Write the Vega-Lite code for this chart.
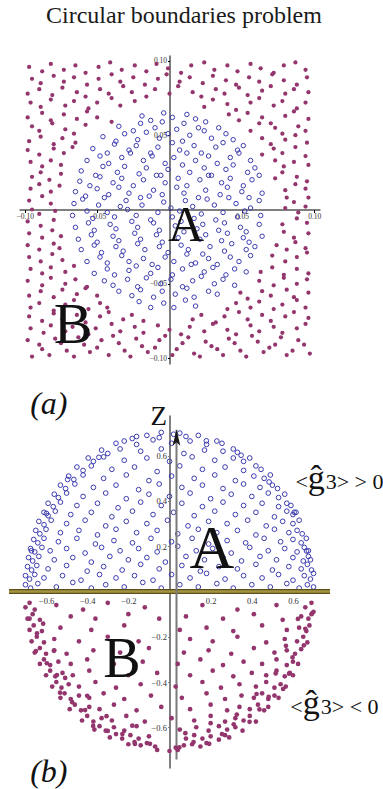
{
  "$schema": "https://vega.github.io/schema/vega-lite/v6.json",
  "padding": {"left": 6, "top": 4, "right": 0, "bottom": 0},
  "title": {"text": "Circular boundaries problem", "font": "Liberation Serif", "fontSize": 24, "fontWeight": "normal", "color": "#1a1a1a", "anchor": "start", "frame": "group", "dx": 37, "offset": 27},
  "config": {"view": {"stroke": null}},
  "datasets": {
    "one": [{}],
    "topB": [
      {"x":-0.095,"y":-0.099},{"x":-0.088,"y":-0.094},{"x":-0.083,"y":-0.098},{"x":-0.071,"y":-0.095},{"x":-0.066,"y":-0.099},{"x":-0.055,"y":-0.096},{"x":-0.05,"y":-0.093},{"x":-0.042,"y":-0.098},{"x":-0.031,"y":-0.095},{"x":-0.027,"y":-0.099},{"x":-0.015,"y":-0.096},{"x":-0.01,"y":-0.093},{"x":0.002,"y":-0.098},{"x":0.005,"y":-0.094},{"x":0.017,"y":-0.097},{"x":0.021,"y":-0.099},{"x":0.033,"y":-0.094},{"x":0.037,"y":-0.098},{"x":0.049,"y":-0.095},{"x":0.053,"y":-0.099},{"x":0.065,"y":-0.096},{"x":0.069,"y":-0.093},{"x":0.081,"y":-0.098},{"x":0.085,"y":-0.095},{"x":0.097,"y":-0.097},
      {"x":-0.098,"y":-0.088},{"x":-0.09,"y":-0.091},{"x":-0.079,"y":-0.087},{"x":-0.075,"y":-0.09},{"x":-0.063,"y":-0.086},{"x":-0.059,"y":-0.091},{"x":-0.047,"y":-0.088},{"x":-0.039,"y":-0.085},{"x":-0.035,"y":-0.09},{"x":-0.023,"y":-0.087},{"x":-0.019,"y":-0.092},{"x":-0.007,"y":-0.088},{"x":-0.003,"y":-0.085},{"x":0.009,"y":-0.09},{"x":0.013,"y":-0.086},{"x":0.025,"y":-0.089},{"x":0.029,"y":-0.092},{"x":0.041,"y":-0.087},{"x":0.045,"y":-0.09},{"x":0.057,"y":-0.085},{"x":0.061,"y":-0.089},{"x":0.073,"y":-0.091},{"x":0.077,"y":-0.086},{"x":0.089,"y":-0.088},{"x":0.093,"y":-0.091},
      {"x":-0.096,"y":-0.08},{"x":-0.087,"y":-0.083},{"x":-0.082,"y":-0.078},{"x":-0.072,"y":-0.082},{"x":-0.067,"y":-0.079},{"x":-0.056,"y":-0.084},{"x":-0.051,"y":-0.08},{"x":-0.04,"y":-0.077},{"x":-0.034,"y":-0.082},{"x":-0.024,"y":-0.079},{"x":-0.018,"y":-0.083},{"x":-0.008,"y":-0.078},{"x":0.0,"y":-0.081},{"x":0.008,"y":-0.084},{"x":0.014,"y":-0.079},{"x":0.024,"y":-0.082},{"x":0.03,"y":-0.077},{"x":0.04,"y":-0.081},{"x":0.046,"y":-0.084},{"x":0.056,"y":-0.078},{"x":0.062,"y":-0.082},{"x":0.072,"y":-0.079},{"x":0.078,"y":-0.083},{"x":0.088,"y":-0.08},{"x":0.094,"y":-0.077},
      {"x":-0.097,"y":-0.072},{"x":-0.088,"y":-0.075},{"x":-0.08,"y":-0.07},{"x":-0.074,"y":-0.074},{"x":-0.064,"y":-0.071},{"x":-0.058,"y":-0.076},{"x":-0.048,"y":-0.072},{"x":-0.042,"y":-0.069},{"x":-0.032,"y":-0.074},{"x":-0.026,"y":-0.071},{"x":-0.018,"y":-0.075},{"x":0.016,"y":-0.074},{"x":0.022,"y":-0.071},{"x":0.032,"y":-0.076},{"x":0.038,"y":-0.072},{"x":0.048,"y":-0.069},{"x":0.054,"y":-0.074},{"x":0.064,"y":-0.071},{"x":0.07,"y":-0.075},{"x":0.08,"y":-0.072},{"x":0.086,"y":-0.069},{"x":0.096,"y":-0.073},
      {"x":-0.096,"y":0.072},{"x":-0.089,"y":0.069},{"x":-0.082,"y":0.074},{"x":-0.072,"y":0.07},{"x":-0.066,"y":0.073},{"x":-0.056,"y":0.068},{"x":-0.05,"y":0.072},{"x":-0.04,"y":0.075},{"x":-0.034,"y":0.07},{"x":-0.024,"y":0.073},{"x":0.024,"y":0.069},{"x":0.03,"y":0.074},{"x":0.04,"y":0.071},{"x":0.046,"y":0.067},{"x":0.056,"y":0.072},{"x":0.062,"y":0.075},{"x":0.072,"y":0.07},{"x":0.078,"y":0.073},{"x":0.088,"y":0.068},{"x":0.094,"y":0.072},
      {"x":-0.098,"y":0.078},{"x":-0.09,"y":0.081},{"x":-0.081,"y":0.077},{"x":-0.074,"y":0.082},{"x":-0.064,"y":0.079},{"x":-0.058,"y":0.076},{"x":-0.048,"y":0.081},{"x":-0.042,"y":0.078},{"x":-0.032,"y":0.083},{"x":-0.026,"y":0.079},{"x":-0.016,"y":0.076},{"x":-0.01,"y":0.081},{"x":0.0,"y":0.078},{"x":0.006,"y":0.083},{"x":0.016,"y":0.079},{"x":0.022,"y":0.076},{"x":0.032,"y":0.081},{"x":0.038,"y":0.078},{"x":0.048,"y":0.082},{"x":0.054,"y":0.077},{"x":0.064,"y":0.08},{"x":0.07,"y":0.083},{"x":0.08,"y":0.078},{"x":0.086,"y":0.081},{"x":0.096,"y":0.079},
      {"x":-0.095,"y":0.088},{"x":-0.089,"y":0.085},{"x":-0.08,"y":0.09},{"x":-0.073,"y":0.086},{"x":-0.066,"y":0.089},{"x":-0.057,"y":0.084},{"x":-0.049,"y":0.088},{"x":-0.04,"y":0.091},{"x":-0.034,"y":0.086},{"x":-0.025,"y":0.089},{"x":-0.017,"y":0.084},{"x":-0.008,"y":0.088},{"x":-0.002,"y":0.091},{"x":0.007,"y":0.086},{"x":0.014,"y":0.089},{"x":0.023,"y":0.085},{"x":0.03,"y":0.09},{"x":0.039,"y":0.087},{"x":0.046,"y":0.084},{"x":0.055,"y":0.089},{"x":0.062,"y":0.086},{"x":0.071,"y":0.091},{"x":0.079,"y":0.087},{"x":0.088,"y":0.084},{"x":0.095,"y":0.089},
      {"x":-0.097,"y":0.096},{"x":-0.088,"y":0.093},{"x":-0.082,"y":0.098},{"x":-0.073,"y":0.094},{"x":-0.065,"y":0.097},{"x":-0.058,"y":0.092},{"x":-0.049,"y":0.096},{"x":-0.041,"y":0.099},{"x":-0.033,"y":0.094},{"x":-0.024,"y":0.097},{"x":-0.016,"y":0.093},{"x":-0.009,"y":0.098},{"x":-0.001,"y":0.095},{"x":0.008,"y":0.092},{"x":0.015,"y":0.097},{"x":0.024,"y":0.099},{"x":0.031,"y":0.094},{"x":0.04,"y":0.097},{"x":0.047,"y":0.093},{"x":0.056,"y":0.098},{"x":0.063,"y":0.095},{"x":0.072,"y":0.092},{"x":0.079,"y":0.097},{"x":0.087,"y":0.099},{"x":0.094,"y":0.094},
      {"x":-0.096,"y":-0.066},{"x":-0.09,"y":-0.063},{"x":-0.08,"y":-0.068},{"x":-0.072,"y":-0.064},{"x":-0.066,"y":-0.061},{"x":-0.056,"y":-0.067},{"x":-0.048,"y":-0.063},{"x":-0.043,"y":-0.066},{"x":0.04,"y":-0.067},{"x":0.046,"y":-0.063},{"x":0.056,"y":-0.066},{"x":0.062,"y":-0.062},{"x":0.072,"y":-0.067},{"x":0.078,"y":-0.064},{"x":0.088,"y":-0.061},{"x":0.094,"y":-0.066},
      {"x":-0.098,"y":0.062},{"x":-0.088,"y":0.065},{"x":-0.082,"y":0.06},{"x":-0.073,"y":0.064},{"x":-0.064,"y":0.061},{"x":-0.057,"y":0.066},{"x":-0.05,"y":0.062},{"x":-0.04,"y":0.059},{"x":0.041,"y":0.064},{"x":0.048,"y":0.06},{"x":0.054,"y":0.065},{"x":0.064,"y":0.062},{"x":0.07,"y":0.058},{"x":0.08,"y":0.063},{"x":0.086,"y":0.066},{"x":0.096,"y":0.061},
      {"x":-0.097,"y":-0.058},{"x":-0.089,"y":-0.055},{"x":-0.08,"y":-0.059},{"x":-0.074,"y":-0.054},{"x":-0.064,"y":-0.057},{"x":-0.058,"y":-0.053},{"x":-0.05,"y":-0.058},{"x":0.049,"y":-0.056},{"x":0.054,"y":-0.06},{"x":0.064,"y":-0.055},{"x":0.07,"y":-0.058},{"x":0.081,"y":-0.054},{"x":0.086,"y":-0.059},{"x":0.096,"y":-0.056},
      {"x":-0.095,"y":0.056},{"x":-0.09,"y":0.053},{"x":-0.081,"y":0.058},{"x":-0.072,"y":0.054},{"x":-0.066,"y":0.051},{"x":-0.058,"y":0.057},{"x":0.056,"y":0.053},{"x":0.062,"y":0.058},{"x":0.073,"y":0.055},{"x":0.078,"y":0.051},{"x":0.089,"y":0.056},{"x":0.094,"y":0.053},
      {"x":-0.098,"y":-0.048},{"x":-0.088,"y":-0.051},{"x":-0.082,"y":-0.046},{"x":-0.072,"y":-0.05},{"x":-0.065,"y":-0.047},{"x":-0.057,"y":-0.052},{"x":0.062,"y":-0.048},{"x":0.072,"y":-0.051},{"x":0.079,"y":-0.046},{"x":0.088,"y":-0.05},{"x":0.095,"y":-0.047},
      {"x":-0.097,"y":0.046},{"x":-0.089,"y":0.049},{"x":-0.08,"y":0.044},{"x":-0.074,"y":0.048},{"x":-0.065,"y":0.045},{"x":0.064,"y":0.048},{"x":0.07,"y":0.044},{"x":0.08,"y":0.047},{"x":0.087,"y":0.05},{"x":0.095,"y":0.045},
      {"x":-0.096,"y":-0.04},{"x":-0.088,"y":-0.043},{"x":-0.082,"y":-0.039},{"x":-0.072,"y":-0.042},{"x":-0.066,"y":-0.038},{"x":0.063,"y":-0.042},{"x":0.071,"y":-0.039},{"x":0.079,"y":-0.044},{"x":0.088,"y":-0.04},{"x":0.096,"y":-0.043},
      {"x":-0.098,"y":0.04},{"x":-0.09,"y":0.037},{"x":-0.08,"y":0.041},{"x":-0.073,"y":0.038},{"x":-0.067,"y":0.042},{"x":0.064,"y":0.037},{"x":0.072,"y":0.041},{"x":0.078,"y":0.038},{"x":0.087,"y":0.042},{"x":0.094,"y":0.036},
      {"x":-0.097,"y":-0.032},{"x":-0.089,"y":-0.035},{"x":-0.081,"y":-0.03},{"x":-0.074,"y":-0.034},{"x":0.071,"y":-0.031},{"x":0.08,"y":-0.035},{"x":0.088,"y":-0.032},{"x":0.095,"y":-0.029},
      {"x":-0.096,"y":0.032},{"x":-0.088,"y":0.029},{"x":-0.082,"y":0.033},{"x":-0.075,"y":0.03},{"x":0.073,"y":0.033},{"x":0.079,"y":0.029},{"x":0.086,"y":0.032},{"x":0.096,"y":0.03},
      {"x":-0.098,"y":-0.024},{"x":-0.09,"y":-0.027},{"x":-0.08,"y":-0.023},{"x":-0.076,"y":-0.026},{"x":0.074,"y":-0.024},{"x":0.081,"y":-0.027},{"x":0.087,"y":-0.022},{"x":0.094,"y":-0.026},
      {"x":-0.095,"y":0.022},{"x":-0.089,"y":0.025},{"x":-0.083,"y":0.02},{"x":-0.075,"y":0.024},{"x":0.073,"y":0.021},{"x":0.078,"y":0.025},{"x":0.088,"y":0.022},{"x":0.095,"y":0.019},
      {"x":-0.097,"y":-0.016},{"x":-0.088,"y":-0.019},{"x":-0.081,"y":-0.014},{"x":-0.075,"y":-0.018},{"x":0.079,"y":-0.015},{"x":0.086,"y":-0.019},{"x":0.096,"y":-0.016},
      {"x":-0.096,"y":0.014},{"x":-0.09,"y":0.017},{"x":-0.082,"y":0.012},{"x":-0.076,"y":0.016},{"x":0.08,"y":0.013},{"x":0.087,"y":0.017},{"x":0.094,"y":0.014},
      {"x":-0.098,"y":-0.008},{"x":-0.089,"y":-0.011},{"x":-0.08,"y":-0.007},{"x":0.078,"y":-0.01},{"x":0.088,"y":-0.006},{"x":0.095,"y":-0.009},
      {"x":-0.097,"y":0.006},{"x":-0.088,"y":0.009},{"x":-0.082,"y":0.004},{"x":0.081,"y":0.008},{"x":0.086,"y":0.005},{"x":0.096,"y":0.008},
      {"x":-0.095,"y":0.0},{"x":-0.09,"y":-0.003},{"x":-0.079,"y":-0.001},{"x":0.08,"y":0.001},{"x":0.089,"y":-0.002},{"x":0.094,"y":0.002}
    ],
    "topA": [
      {"x":-0.021,"y":-0.062},{"x":-0.013,"y":-0.066},{"x":-0.004,"y":-0.063},{"x":0.003,"y":-0.066},{"x":0.011,"y":-0.061},{"x":0.018,"y":-0.065},
      {"x":-0.035,"y":-0.055},{"x":-0.026,"y":-0.058},{"x":-0.02,"y":-0.054},{"x":-0.011,"y":-0.059},{"x":-0.005,"y":-0.055},{"x":0.004,"y":-0.057},{"x":0.012,"y":-0.053},{"x":0.017,"y":-0.059},{"x":0.027,"y":-0.055},{"x":0.033,"y":-0.057},
      {"x":-0.045,"y":-0.048},{"x":-0.039,"y":-0.051},{"x":-0.029,"y":-0.047},{"x":-0.022,"y":-0.052},{"x":-0.016,"y":-0.046},{"x":-0.006,"y":-0.05},{"x":0.001,"y":-0.047},{"x":0.009,"y":-0.052},{"x":0.016,"y":-0.048},{"x":0.022,"y":-0.045},{"x":0.031,"y":-0.05},{"x":0.037,"y":-0.047},{"x":0.045,"y":-0.051},
      {"x":-0.052,"y":-0.043},{"x":-0.043,"y":-0.04},{"x":-0.038,"y":-0.044},{"x":-0.028,"y":-0.041},{"x":-0.023,"y":-0.038},{"x":-0.013,"y":-0.043},{"x":-0.008,"y":-0.039},{"x":0.002,"y":-0.044},{"x":0.009,"y":-0.04},{"x":0.015,"y":-0.037},{"x":0.024,"y":-0.042},{"x":0.03,"y":-0.039},{"x":0.039,"y":-0.044},{"x":0.045,"y":-0.04},{"x":0.053,"y":-0.042},
      {"x":-0.057,"y":-0.035},{"x":-0.048,"y":-0.032},{"x":-0.043,"y":-0.036},{"x":-0.033,"y":-0.031},{"x":-0.028,"y":-0.035},{"x":-0.018,"y":-0.033},{"x":-0.012,"y":-0.037},{"x":-0.003,"y":-0.032},{"x":0.003,"y":-0.035},{"x":0.012,"y":-0.03},{"x":0.018,"y":-0.036},{"x":0.027,"y":-0.033},{"x":0.033,"y":-0.037},{"x":0.042,"y":-0.032},{"x":0.048,"y":-0.035},{"x":0.056,"y":-0.031},
      {"x":-0.061,"y":-0.027},{"x":-0.052,"y":-0.024},{"x":-0.047,"y":-0.029},{"x":-0.037,"y":-0.025},{"x":-0.032,"y":-0.028},{"x":-0.022,"y":-0.023},{"x":-0.017,"y":-0.027},{"x":-0.007,"y":-0.025},{"x":-0.001,"y":-0.029},{"x":0.008,"y":-0.024},{"x":0.013,"y":-0.027},{"x":0.023,"y":-0.03},{"x":0.028,"y":-0.025},{"x":0.038,"y":-0.028},{"x":0.043,"y":-0.023},{"x":0.053,"y":-0.027},{"x":0.059,"y":-0.025},
      {"x":-0.063,"y":-0.02},{"x":-0.054,"y":-0.017},{"x":-0.05,"y":-0.022},{"x":-0.039,"y":-0.018},{"x":-0.035,"y":-0.021},{"x":-0.024,"y":-0.016},{"x":-0.02,"y":-0.02},{"x":-0.009,"y":-0.017},{"x":-0.005,"y":-0.022},{"x":0.006,"y":-0.019},{"x":0.01,"y":-0.015},{"x":0.021,"y":-0.02},{"x":0.025,"y":-0.017},{"x":0.036,"y":-0.021},{"x":0.04,"y":-0.016},{"x":0.051,"y":-0.019},{"x":0.055,"y":-0.022},{"x":0.064,"y":-0.018},
      {"x":-0.065,"y":-0.012},{"x":-0.056,"y":-0.009},{"x":-0.052,"y":-0.014},{"x":-0.041,"y":-0.01},{"x":-0.037,"y":-0.013},{"x":-0.026,"y":-0.008},{"x":-0.022,"y":-0.012},{"x":-0.011,"y":-0.009},{"x":-0.007,"y":-0.014},{"x":0.004,"y":-0.011},{"x":0.008,"y":-0.008},{"x":0.019,"y":-0.013},{"x":0.023,"y":-0.01},{"x":0.034,"y":-0.014},{"x":0.038,"y":-0.009},{"x":0.049,"y":-0.012},{"x":0.053,"y":-0.015},{"x":0.062,"y":-0.01},
      {"x":-0.067,"y":-0.004},{"x":-0.057,"y":-0.001},{"x":-0.053,"y":-0.006},{"x":-0.043,"y":-0.002},{"x":-0.038,"y":-0.005},{"x":-0.029,"y":0.0},{"x":-0.023,"y":-0.004},{"x":-0.013,"y":-0.007},{"x":-0.008,"y":-0.002},{"x":0.002,"y":-0.005},{"x":0.007,"y":-0.001},{"x":0.017,"y":-0.006},{"x":0.022,"y":-0.003},{"x":0.032,"y":-0.007},{"x":0.037,"y":-0.002},{"x":0.047,"y":-0.005},{"x":0.052,"y":-0.001},{"x":0.063,"y":-0.004},
      {"x":-0.066,"y":0.004},{"x":-0.06,"y":0.007},{"x":-0.049,"y":0.003},{"x":-0.045,"y":0.008},{"x":-0.034,"y":0.002},{"x":-0.03,"y":0.006},{"x":-0.019,"y":0.003},{"x":-0.014,"y":0.009},{"x":-0.004,"y":0.005},{"x":0.001,"y":0.001},{"x":0.011,"y":0.006},{"x":0.016,"y":0.002},{"x":0.026,"y":0.007},{"x":0.031,"y":0.003},{"x":0.041,"y":0.008},{"x":0.046,"y":0.004},{"x":0.056,"y":0.001},{"x":0.062,"y":0.006},
      {"x":-0.065,"y":0.012},{"x":-0.058,"y":0.009},{"x":-0.05,"y":0.014},{"x":-0.042,"y":0.01},{"x":-0.035,"y":0.015},{"x":-0.028,"y":0.011},{"x":-0.02,"y":0.008},{"x":-0.011,"y":0.013},{"x":-0.005,"y":0.01},{"x":0.005,"y":0.015},{"x":0.01,"y":0.011},{"x":0.02,"y":0.008},{"x":0.025,"y":0.013},{"x":0.035,"y":0.01},{"x":0.04,"y":0.015},{"x":0.05,"y":0.012},{"x":0.055,"y":0.008},{"x":0.064,"y":0.011},
      {"x":-0.062,"y":0.019},{"x":-0.055,"y":0.016},{"x":-0.048,"y":0.022},{"x":-0.039,"y":0.018},{"x":-0.033,"y":0.021},{"x":-0.025,"y":0.016},{"x":-0.018,"y":0.02},{"x":-0.009,"y":0.023},{"x":-0.003,"y":0.018},{"x":0.006,"y":0.021},{"x":0.012,"y":0.016},{"x":0.021,"y":0.02},{"x":0.027,"y":0.023},{"x":0.036,"y":0.018},{"x":0.042,"y":0.021},{"x":0.051,"y":0.016},{"x":0.057,"y":0.02},{"x":0.062,"y":0.023},
      {"x":-0.061,"y":0.026},{"x":-0.051,"y":0.023},{"x":-0.046,"y":0.029},{"x":-0.036,"y":0.025},{"x":-0.031,"y":0.029},{"x":-0.021,"y":0.024},{"x":-0.016,"y":0.028},{"x":-0.006,"y":0.023},{"x":-0.001,"y":0.027},{"x":0.009,"y":0.03},{"x":0.014,"y":0.025},{"x":0.024,"y":0.028},{"x":0.029,"y":0.023},{"x":0.039,"y":0.027},{"x":0.044,"y":0.03},{"x":0.054,"y":0.025},{"x":0.059,"y":0.028},
      {"x":-0.057,"y":0.033},{"x":-0.048,"y":0.036},{"x":-0.042,"y":0.031},{"x":-0.033,"y":0.035},{"x":-0.027,"y":0.038},{"x":-0.018,"y":0.033},{"x":-0.012,"y":0.036},{"x":-0.003,"y":0.031},{"x":0.003,"y":0.035},{"x":0.012,"y":0.038},{"x":0.018,"y":0.033},{"x":0.027,"y":0.036},{"x":0.033,"y":0.031},{"x":0.042,"y":0.035},{"x":0.048,"y":0.038},{"x":0.056,"y":0.033},
      {"x":-0.053,"y":0.041},{"x":-0.043,"y":0.038},{"x":-0.038,"y":0.044},{"x":-0.028,"y":0.04},{"x":-0.023,"y":0.043},{"x":-0.013,"y":0.038},{"x":-0.008,"y":0.042},{"x":0.002,"y":0.045},{"x":0.007,"y":0.04},{"x":0.017,"y":0.043},{"x":0.022,"y":0.038},{"x":0.032,"y":0.042},{"x":0.037,"y":0.045},{"x":0.047,"y":0.04},{"x":0.051,"y":0.043},
      {"x":-0.046,"y":0.049},{"x":-0.037,"y":0.046},{"x":-0.031,"y":0.051},{"x":-0.022,"y":0.047},{"x":-0.016,"y":0.052},{"x":-0.007,"y":0.048},{"x":-0.001,"y":0.051},{"x":0.009,"y":0.046},{"x":0.014,"y":0.05},{"x":0.024,"y":0.053},{"x":0.029,"y":0.048},{"x":0.039,"y":0.051},{"x":0.044,"y":0.047},
      {"x":-0.035,"y":0.056},{"x":-0.025,"y":0.053},{"x":-0.02,"y":0.058},{"x":-0.01,"y":0.055},{"x":-0.005,"y":0.059},{"x":0.005,"y":0.054},{"x":0.01,"y":0.058},{"x":0.02,"y":0.055},{"x":0.025,"y":0.059},{"x":0.034,"y":0.055},
      {"x":-0.019,"y":0.063},{"x":-0.013,"y":0.06},{"x":-0.004,"y":0.065},{"x":0.002,"y":0.062},{"x":0.012,"y":0.064},{"x":0.018,"y":0.061}
    ],
    "botA": [
      {"x":-0.70,"y":0.03},{"x":-0.675,"y":0.015},{"x":-0.64,"y":0.035},{"x":-0.55,"y":0.02},{"x":-0.47,"y":0.04},{"x":-0.38,"y":0.015},{"x":-0.31,"y":0.03},{"x":-0.22,"y":0.02},{"x":-0.13,"y":0.04},{"x":-0.04,"y":0.015},{"x":0.05,"y":0.03},{"x":0.14,"y":0.02},{"x":0.23,"y":0.035},{"x":0.31,"y":0.015},{"x":0.40,"y":0.03},{"x":0.49,"y":0.02},{"x":0.57,"y":0.035},{"x":0.63,"y":0.015},{"x":0.67,"y":0.03},{"x":0.70,"y":0.02},
      {"x":-0.70,"y":0.07},{"x":-0.68,"y":0.055},{"x":-0.655,"y":0.075},{"x":-0.61,"y":0.06},{"x":-0.52,"y":0.07},{"x":-0.43,"y":0.05},{"x":-0.34,"y":0.075},{"x":-0.26,"y":0.06},{"x":-0.17,"y":0.07},{"x":-0.08,"y":0.05},{"x":0.01,"y":0.075},{"x":0.10,"y":0.06},{"x":0.18,"y":0.08},{"x":0.27,"y":0.055},{"x":0.36,"y":0.07},{"x":0.45,"y":0.06},{"x":0.53,"y":0.075},{"x":0.60,"y":0.05},{"x":0.655,"y":0.07},{"x":0.685,"y":0.055},{"x":0.70,"y":0.08},
      {"x":-0.69,"y":0.11},{"x":-0.67,"y":0.095},{"x":-0.645,"y":0.115},{"x":-0.59,"y":0.10},{"x":-0.50,"y":0.115},{"x":-0.40,"y":0.09},{"x":-0.32,"y":0.11},{"x":-0.23,"y":0.095},{"x":-0.14,"y":0.12},{"x":-0.05,"y":0.10},{"x":0.06,"y":0.115},{"x":0.15,"y":0.09},{"x":0.24,"y":0.11},{"x":0.33,"y":0.10},{"x":0.42,"y":0.12},{"x":0.50,"y":0.095},{"x":0.58,"y":0.11},{"x":0.64,"y":0.10},{"x":0.67,"y":0.12},{"x":0.69,"y":0.095},
      {"x":-0.685,"y":0.15},{"x":-0.665,"y":0.135},{"x":-0.635,"y":0.155},{"x":-0.56,"y":0.14},{"x":-0.47,"y":0.15},{"x":-0.38,"y":0.13},{"x":-0.29,"y":0.155},{"x":-0.20,"y":0.14},{"x":-0.11,"y":0.15},{"x":-0.02,"y":0.13},{"x":0.08,"y":0.155},{"x":0.17,"y":0.14},{"x":0.26,"y":0.15},{"x":0.35,"y":0.135},{"x":0.44,"y":0.155},{"x":0.52,"y":0.14},{"x":0.60,"y":0.15},{"x":0.65,"y":0.135},{"x":0.675,"y":0.155},{"x":0.685,"y":0.14},
      {"x":-0.675,"y":0.19},{"x":-0.655,"y":0.175},{"x":-0.62,"y":0.195},{"x":-0.58,"y":0.18},{"x":-0.50,"y":0.19},{"x":-0.41,"y":0.17},{"x":-0.33,"y":0.195},{"x":-0.24,"y":0.18},{"x":-0.15,"y":0.19},{"x":-0.06,"y":0.175},{"x":0.04,"y":0.20},{"x":0.13,"y":0.18},{"x":0.21,"y":0.19},{"x":0.30,"y":0.17},{"x":0.39,"y":0.195},{"x":0.48,"y":0.18},{"x":0.56,"y":0.19},{"x":0.62,"y":0.175},{"x":0.655,"y":0.195},{"x":0.675,"y":0.18},
      {"x":-0.66,"y":0.23},{"x":-0.64,"y":0.215},{"x":-0.61,"y":0.235},{"x":-0.54,"y":0.22},{"x":-0.45,"y":0.235},{"x":-0.36,"y":0.21},{"x":-0.27,"y":0.225},{"x":-0.18,"y":0.215},{"x":-0.09,"y":0.235},{"x":0.01,"y":0.22},{"x":0.11,"y":0.235},{"x":0.19,"y":0.21},{"x":0.28,"y":0.225},{"x":0.37,"y":0.215},{"x":0.46,"y":0.235},{"x":0.54,"y":0.22},{"x":0.60,"y":0.23},{"x":0.64,"y":0.215},{"x":0.665,"y":0.235},
      {"x":-0.65,"y":0.27},{"x":-0.63,"y":0.255},{"x":-0.60,"y":0.275},{"x":-0.53,"y":0.26},{"x":-0.44,"y":0.27},{"x":-0.35,"y":0.25},{"x":-0.26,"y":0.275},{"x":-0.16,"y":0.26},{"x":-0.06,"y":0.27},{"x":0.04,"y":0.255},{"x":0.14,"y":0.275},{"x":0.23,"y":0.26},{"x":0.33,"y":0.27},{"x":0.42,"y":0.25},{"x":0.51,"y":0.275},{"x":0.58,"y":0.26},{"x":0.62,"y":0.27},{"x":0.645,"y":0.255},
      {"x":-0.635,"y":0.31},{"x":-0.61,"y":0.295},{"x":-0.575,"y":0.315},{"x":-0.50,"y":0.30},{"x":-0.41,"y":0.315},{"x":-0.31,"y":0.29},{"x":-0.21,"y":0.31},{"x":-0.11,"y":0.30},{"x":-0.01,"y":0.315},{"x":0.09,"y":0.29},{"x":0.19,"y":0.31},{"x":0.28,"y":0.30},{"x":0.38,"y":0.315},{"x":0.47,"y":0.29},{"x":0.55,"y":0.31},{"x":0.60,"y":0.30},{"x":0.63,"y":0.315},
      {"x":-0.61,"y":0.35},{"x":-0.59,"y":0.335},{"x":-0.555,"y":0.355},{"x":-0.48,"y":0.34},{"x":-0.38,"y":0.35},{"x":-0.28,"y":0.33},{"x":-0.18,"y":0.355},{"x":-0.08,"y":0.34},{"x":0.02,"y":0.35},{"x":0.12,"y":0.335},{"x":0.22,"y":0.355},{"x":0.32,"y":0.34},{"x":0.42,"y":0.35},{"x":0.51,"y":0.33},{"x":0.57,"y":0.355},{"x":0.60,"y":0.34},{"x":0.615,"y":0.35},
      {"x":-0.59,"y":0.39},{"x":-0.565,"y":0.375},{"x":-0.53,"y":0.395},{"x":-0.45,"y":0.38},{"x":-0.35,"y":0.39},{"x":-0.25,"y":0.37},{"x":-0.14,"y":0.395},{"x":-0.04,"y":0.38},{"x":0.06,"y":0.39},{"x":0.16,"y":0.375},{"x":0.26,"y":0.395},{"x":0.36,"y":0.38},{"x":0.45,"y":0.39},{"x":0.53,"y":0.375},{"x":0.57,"y":0.39},{"x":0.59,"y":0.38},
      {"x":-0.56,"y":0.43},{"x":-0.54,"y":0.415},{"x":-0.50,"y":0.435},{"x":-0.42,"y":0.42},{"x":-0.31,"y":0.435},{"x":-0.21,"y":0.41},{"x":-0.10,"y":0.43},{"x":0.0,"y":0.42},{"x":0.10,"y":0.435},{"x":0.20,"y":0.41},{"x":0.30,"y":0.43},{"x":0.40,"y":0.42},{"x":0.48,"y":0.435},{"x":0.53,"y":0.415},{"x":0.56,"y":0.43},
      {"x":-0.53,"y":0.47},{"x":-0.505,"y":0.455},{"x":-0.46,"y":0.475},{"x":-0.37,"y":0.46},{"x":-0.26,"y":0.47},{"x":-0.15,"y":0.45},{"x":-0.05,"y":0.475},{"x":0.06,"y":0.46},{"x":0.16,"y":0.47},{"x":0.26,"y":0.455},{"x":0.36,"y":0.475},{"x":0.44,"y":0.46},{"x":0.50,"y":0.47},{"x":0.525,"y":0.455},
      {"x":-0.49,"y":0.51},{"x":-0.465,"y":0.495},{"x":-0.42,"y":0.515},{"x":-0.32,"y":0.50},{"x":-0.21,"y":0.515},{"x":-0.10,"y":0.49},{"x":0.01,"y":0.51},{"x":0.12,"y":0.50},{"x":0.22,"y":0.515},{"x":0.32,"y":0.49},{"x":0.41,"y":0.51},{"x":0.46,"y":0.50},{"x":0.49,"y":0.515},
      {"x":-0.45,"y":0.55},{"x":-0.42,"y":0.535},{"x":-0.38,"y":0.555},{"x":-0.28,"y":0.54},{"x":-0.17,"y":0.55},{"x":-0.06,"y":0.53},{"x":0.05,"y":0.555},{"x":0.16,"y":0.54},{"x":0.27,"y":0.55},{"x":0.36,"y":0.535},{"x":0.42,"y":0.555},{"x":0.445,"y":0.54},
      {"x":-0.395,"y":0.59},{"x":-0.37,"y":0.575},{"x":-0.32,"y":0.595},{"x":-0.22,"y":0.58},{"x":-0.11,"y":0.59},{"x":0.0,"y":0.575},{"x":0.11,"y":0.595},{"x":0.22,"y":0.58},{"x":0.31,"y":0.59},{"x":0.36,"y":0.575},{"x":0.39,"y":0.59},
      {"x":-0.33,"y":0.625},{"x":-0.30,"y":0.61},{"x":-0.24,"y":0.63},{"x":-0.14,"y":0.62},{"x":-0.04,"y":0.63},{"x":0.07,"y":0.61},{"x":0.17,"y":0.625},{"x":0.26,"y":0.62},{"x":0.31,"y":0.63},{"x":0.33,"y":0.615},
      {"x":-0.26,"y":0.655},{"x":-0.22,"y":0.665},{"x":-0.16,"y":0.65},{"x":-0.08,"y":0.67},{"x":0.01,"y":0.655},{"x":0.10,"y":0.665},{"x":0.18,"y":0.65},{"x":0.23,"y":0.665},{"x":0.255,"y":0.655},
      {"x":-0.16,"y":0.685},{"x":-0.11,"y":0.69},{"x":-0.05,"y":0.68},{"x":0.02,"y":0.695},{"x":0.08,"y":0.685},{"x":0.14,"y":0.69},
      {"x":-0.04,"y":0.703},{"x":0.05,"y":0.70},
      {"x":-0.671,"y":0.18},{"x":-0.598,"y":0.345},{"x":-0.495,"y":0.495},{"x":-0.343,"y":0.593},{"x":-0.181,"y":0.676},{"x":0.179,"y":0.666},{"x":0.348,"y":0.602},{"x":0.484,"y":0.484},{"x":0.606,"y":0.35},{"x":0.666,"y":0.179}
    ],
    "botB": [
      {"x":-0.70,"y":-0.07},{"x":-0.68,"y":-0.05},{"x":-0.655,"y":-0.08},{"x":-0.55,"y":-0.06},{"x":-0.42,"y":-0.08},{"x":-0.30,"y":-0.05},{"x":-0.12,"y":-0.07},{"x":0.16,"y":-0.06},{"x":0.33,"y":-0.08},{"x":0.52,"y":-0.06},{"x":0.66,"y":-0.07},{"x":0.69,"y":-0.05},{"x":0.70,"y":-0.09},
      {"x":-0.69,"y":-0.12},{"x":-0.665,"y":-0.10},{"x":-0.63,"y":-0.125},{"x":-0.48,"y":-0.11},{"x":-0.36,"y":-0.12},{"x":-0.20,"y":-0.10},{"x":-0.05,"y":-0.12},{"x":0.08,"y":-0.11},{"x":0.26,"y":-0.12},{"x":0.41,"y":-0.10},{"x":0.55,"y":-0.125},{"x":0.64,"y":-0.11},{"x":0.675,"y":-0.12},{"x":0.69,"y":-0.10},
      {"x":-0.68,"y":-0.17},{"x":-0.66,"y":-0.15},{"x":-0.62,"y":-0.175},{"x":-0.53,"y":-0.16},{"x":-0.38,"y":-0.17},{"x":-0.22,"y":-0.15},{"x":0.05,"y":-0.17},{"x":0.18,"y":-0.16},{"x":0.31,"y":-0.175},{"x":0.45,"y":-0.15},{"x":0.57,"y":-0.17},{"x":0.63,"y":-0.16},{"x":0.665,"y":-0.175},{"x":0.68,"y":-0.15},
      {"x":-0.67,"y":-0.22},{"x":-0.645,"y":-0.20},{"x":-0.61,"y":-0.225},{"x":-0.56,"y":-0.21},{"x":-0.44,"y":-0.22},{"x":-0.30,"y":-0.20},{"x":-0.15,"y":-0.22},{"x":0.10,"y":-0.21},{"x":0.21,"y":-0.22},{"x":0.33,"y":-0.20},{"x":0.47,"y":-0.225},{"x":0.56,"y":-0.21},{"x":0.62,"y":-0.22},{"x":0.65,"y":-0.20},{"x":0.67,"y":-0.225},
      {"x":-0.655,"y":-0.27},{"x":-0.63,"y":-0.25},{"x":-0.60,"y":-0.275},{"x":-0.56,"y":-0.26},{"x":-0.50,"y":-0.275},{"x":-0.37,"y":-0.26},{"x":-0.24,"y":-0.27},{"x":-0.10,"y":-0.25},{"x":0.07,"y":-0.27},{"x":0.19,"y":-0.26},{"x":0.30,"y":-0.275},{"x":0.41,"y":-0.25},{"x":0.51,"y":-0.27},{"x":0.57,"y":-0.26},{"x":0.61,"y":-0.275},{"x":0.64,"y":-0.255},
      {"x":-0.63,"y":-0.32},{"x":-0.61,"y":-0.30},{"x":-0.58,"y":-0.325},{"x":-0.54,"y":-0.31},{"x":-0.48,"y":-0.32},{"x":-0.40,"y":-0.30},{"x":-0.27,"y":-0.32},{"x":-0.13,"y":-0.31},{"x":0.04,"y":-0.32},{"x":0.15,"y":-0.30},{"x":0.26,"y":-0.325},{"x":0.36,"y":-0.31},{"x":0.45,"y":-0.32},{"x":0.52,"y":-0.30},{"x":0.57,"y":-0.325},{"x":0.60,"y":-0.31},{"x":0.625,"y":-0.32},
      {"x":-0.60,"y":-0.37},{"x":-0.58,"y":-0.35},{"x":-0.555,"y":-0.375},{"x":-0.52,"y":-0.36},{"x":-0.47,"y":-0.37},{"x":-0.39,"y":-0.35},{"x":-0.20,"y":-0.37},{"x":-0.06,"y":-0.36},{"x":0.10,"y":-0.37},{"x":0.21,"y":-0.35},{"x":0.31,"y":-0.375},{"x":0.40,"y":-0.36},{"x":0.47,"y":-0.37},{"x":0.52,"y":-0.35},{"x":0.56,"y":-0.375},{"x":0.585,"y":-0.36},{"x":0.60,"y":-0.37},
      {"x":-0.57,"y":-0.42},{"x":-0.55,"y":-0.40},{"x":-0.525,"y":-0.425},{"x":-0.49,"y":-0.41},{"x":-0.44,"y":-0.42},{"x":-0.36,"y":-0.40},{"x":-0.26,"y":-0.425},{"x":-0.14,"y":-0.41},{"x":0.03,"y":-0.42},{"x":0.16,"y":-0.40},{"x":0.25,"y":-0.425},{"x":0.34,"y":-0.41},{"x":0.42,"y":-0.42},{"x":0.47,"y":-0.40},{"x":0.51,"y":-0.425},{"x":0.54,"y":-0.41},{"x":0.565,"y":-0.42},
      {"x":-0.53,"y":-0.47},{"x":-0.51,"y":-0.45},{"x":-0.48,"y":-0.475},{"x":-0.44,"y":-0.46},{"x":-0.39,"y":-0.47},{"x":-0.32,"y":-0.45},{"x":-0.22,"y":-0.475},{"x":-0.09,"y":-0.46},{"x":0.06,"y":-0.47},{"x":0.18,"y":-0.45},{"x":0.27,"y":-0.475},{"x":0.35,"y":-0.46},{"x":0.41,"y":-0.47},{"x":0.45,"y":-0.45},{"x":0.48,"y":-0.475},{"x":0.51,"y":-0.46},{"x":0.53,"y":-0.47},
      {"x":-0.485,"y":-0.52},{"x":-0.46,"y":-0.50},{"x":-0.43,"y":-0.525},{"x":-0.39,"y":-0.51},{"x":-0.34,"y":-0.52},{"x":-0.27,"y":-0.50},{"x":-0.16,"y":-0.525},{"x":-0.04,"y":-0.51},{"x":0.10,"y":-0.52},{"x":0.20,"y":-0.50},{"x":0.28,"y":-0.525},{"x":0.34,"y":-0.51},{"x":0.39,"y":-0.52},{"x":0.43,"y":-0.50},{"x":0.46,"y":-0.525},{"x":0.48,"y":-0.51},
      {"x":-0.425,"y":-0.57},{"x":-0.40,"y":-0.55},{"x":-0.37,"y":-0.575},{"x":-0.33,"y":-0.56},{"x":-0.28,"y":-0.57},{"x":-0.21,"y":-0.55},{"x":-0.12,"y":-0.575},{"x":0.01,"y":-0.56},{"x":0.12,"y":-0.57},{"x":0.20,"y":-0.55},{"x":0.27,"y":-0.575},{"x":0.32,"y":-0.56},{"x":0.36,"y":-0.57},{"x":0.39,"y":-0.55},{"x":0.42,"y":-0.575},
      {"x":-0.365,"y":-0.61},{"x":-0.34,"y":-0.595},{"x":-0.31,"y":-0.615},{"x":-0.27,"y":-0.60},{"x":-0.22,"y":-0.615},{"x":-0.16,"y":-0.595},{"x":0.05,"y":-0.61},{"x":0.13,"y":-0.60},{"x":0.19,"y":-0.615},{"x":0.24,"y":-0.595},{"x":0.28,"y":-0.61},{"x":0.32,"y":-0.60},{"x":0.355,"y":-0.615},
      {"x":-0.29,"y":-0.645},{"x":-0.26,"y":-0.63},{"x":-0.23,"y":-0.65},{"x":-0.19,"y":-0.635},{"x":-0.15,"y":-0.65},{"x":-0.10,"y":-0.64},{"x":0.08,"y":-0.65},{"x":0.12,"y":-0.635},{"x":0.16,"y":-0.65},{"x":0.20,"y":-0.64},{"x":0.24,"y":-0.655},{"x":0.27,"y":-0.635},{"x":0.29,"y":-0.645},
      {"x":-0.20,"y":-0.675},{"x":-0.17,"y":-0.665},{"x":-0.14,"y":-0.68},{"x":-0.11,"y":-0.67},{"x":-0.07,"y":-0.685},{"x":0.03,"y":-0.69},{"x":0.07,"y":-0.68},{"x":0.11,"y":-0.675},{"x":0.15,"y":-0.685},{"x":0.18,"y":-0.67},
      {"x":-0.06,"y":-0.70},{"x":0.0,"y":-0.705},{"x":0.04,"y":-0.70},
      {"x":-0.68,"y":-0.12},{"x":-0.644,"y":-0.185},{"x":-0.649,"y":-0.263},{"x":-0.596,"y":-0.317},{"x":-0.547,"y":-0.369},{"x":-0.532,"y":-0.447},{"x":-0.473,"y":-0.489},{"x":-0.41,"y":-0.524},{"x":-0.371,"y":-0.594},{"x":-0.30,"y":-0.616},{"x":-0.229,"y":-0.63},{"x":-0.168,"y":-0.674},{"x":-0.095,"y":-0.673},{"x":0.048,"y":-0.689},{"x":0.117,"y":-0.665},{"x":0.193,"y":-0.673},{"x":0.255,"y":-0.63},{"x":0.312,"y":-0.587},{"x":0.389,"y":-0.576},{"x":0.437,"y":-0.521},{"x":0.482,"y":-0.466},{"x":0.552,"y":-0.431},{"x":0.581,"y":-0.363},{"x":0.598,"y":-0.291},{"x":0.653,"y":-0.238},{"x":0.66,"y":-0.165},{"x":0.693,"y":-0.097},
      {"x":-0.614,"y":-0.142},{"x":-0.562,"y":-0.262},{"x":-0.507,"y":-0.382},{"x":-0.40,"y":-0.461},{"x":-0.306,"y":-0.551},{"x":-0.181,"y":-0.593},{"x":0.077,"y":-0.626},{"x":0.20,"y":-0.582},{"x":0.327,"y":-0.544},{"x":0.423,"y":-0.453},{"x":0.516,"y":-0.362},{"x":0.566,"y":-0.24},{"x":0.624,"y":-0.121}
    ]
  },
  "vconcat": [
    {
      "width": 301,
      "height": 309,
      "layer": [
        {
          "data": {"name": "topB"},
          "mark": {"type": "circle", "size": 18, "color": "#94366e", "opacity": 1},
          "encoding": {
            "x": {"field": "x", "type": "quantitative", "scale": {"domain": [-0.104, 0.104], "nice": false, "zero": false},
                  "axis": {"orient": "bottom", "offset": -154.5, "values": [-0.1, -0.05, 0.05, 0.1], "format": ".2f", "title": null, "grid": false, "domainColor": "#000", "domainWidth": 1, "tickColor": "#000", "tickSize": 3, "labelFont": "Liberation Serif", "labelFontSize": 7.5, "labelColor": "#333", "labelPadding": 0, "labelFlush": false, "labelOverlap": false}},
            "y": {"field": "y", "type": "quantitative", "scale": {"domain": [-0.104, 0.104], "nice": false, "zero": false},
                  "axis": {"orient": "left", "offset": -150.5, "values": [-0.1, -0.05, 0.05, 0.1], "format": ".2f", "title": null, "grid": false, "domainColor": "#000", "domainWidth": 1, "tickColor": "#000", "tickSize": 2, "labelFont": "Liberation Serif", "labelFontSize": 7.5, "labelColor": "#333", "labelPadding": 1, "labelFlush": false, "labelOverlap": false}}
          }
        },
        {
          "data": {"name": "topA"},
          "mark": {"type": "point", "filled": false, "size": 20, "strokeWidth": 1, "color": "#3c3cb0", "opacity": 1},
          "encoding": {
            "x": {"field": "x", "type": "quantitative"},
            "y": {"field": "y", "type": "quantitative"}
          }
        },
        {
          "data": {"name": "one"},
          "mark": {"type": "text", "text": "A", "font": "Liberation Serif", "fontSize": 50, "align": "left", "baseline": "alphabetic", "color": "#111"},
          "encoding": {
            "x": {"datum": -0.001, "type": "quantitative"},
            "y": {"datum": -0.021, "type": "quantitative"}
          }
        },
        {
          "data": {"name": "one"},
          "mark": {"type": "text", "text": "B", "font": "Liberation Serif", "fontSize": 58, "align": "left", "baseline": "alphabetic", "color": "#111"},
          "encoding": {
            "x": {"datum": -0.08, "type": "quantitative"},
            "y": {"datum": -0.09, "type": "quantitative"}
          }
        }
      ]
    },
    {
      "width": 321,
      "height": 353,
      "layer": [
        {
          "data": {"name": "botA"},
          "mark": {"type": "point", "filled": false, "size": 22, "strokeWidth": 1, "color": "#3c3cb0", "opacity": 1},
          "encoding": {
            "x": {"field": "x", "type": "quantitative", "scale": {"domain": [-0.78, 0.78], "nice": false, "zero": false},
                  "axis": {"orient": "bottom", "offset": -176.5, "values": [-0.6, -0.4, -0.2, 0.2, 0.4, 0.6], "format": ".1f", "title": null, "grid": false, "domain": false, "ticks": false, "labelPadding": 5, "labelFont": "Liberation Serif", "labelFontSize": 8.5, "labelColor": "#333", "labelFlush": false, "labelOverlap": false}},
            "y": {"field": "y", "type": "quantitative", "scale": {"domain": [-0.78, 0.78], "nice": false, "zero": false},
                  "axis": {"orient": "left", "offset": -160.5, "values": [-0.6, -0.4, -0.2, 0.2, 0.4, 0.6], "format": ".1f", "title": null, "grid": false, "domainColor": "#808080", "domainWidth": 2, "tickColor": "#808080", "tickSize": 2, "labelPadding": 1, "labelFont": "Liberation Serif", "labelFontSize": 8.5, "labelColor": "#333", "labelFlush": false, "labelOverlap": false}}
          }
        },
        {
          "data": {"name": "one"},
          "mark": {"type": "rule", "color": "#5c5018", "strokeWidth": 5},
          "encoding": {
            "x": {"datum": -0.78, "type": "quantitative"},
            "x2": {"datum": 0.78},
            "y": {"datum": 0, "type": "quantitative"}
          }
        },
        {
          "data": {"name": "one"},
          "mark": {"type": "rule", "color": "#a39442", "strokeWidth": 2.5},
          "encoding": {
            "x": {"datum": -0.78, "type": "quantitative"},
            "x2": {"datum": 0.78},
            "y": {"datum": 0, "type": "quantitative"}
          }
        },
        {
          "data": {"name": "one"},
          "mark": {"type": "rule", "color": "#7a7a7a", "strokeWidth": 2},
          "encoding": {
            "x": {"datum": 0.034, "type": "quantitative"},
            "y": {"datum": -0.742, "type": "quantitative"},
            "y2": {"datum": 0.715}
          }
        },
        {
          "data": {"name": "one"},
          "mark": {"type": "point", "shape": "M0,-1L0.45,0.9L0,0.5L-0.45,0.9Z", "size": 289, "filled": true, "color": "#1a1a1a", "opacity": 1},
          "encoding": {
            "x": {"datum": 0.034, "type": "quantitative"},
            "y": {"datum": 0.678, "type": "quantitative"}
          }
        },
        {
          "data": {"name": "botB"},
          "mark": {"type": "circle", "size": 22, "color": "#94366e", "opacity": 1},
          "encoding": {
            "x": {"field": "x", "type": "quantitative"},
            "y": {"field": "y", "type": "quantitative"}
          }
        },
        {
          "data": {"name": "one"},
          "mark": {"type": "text", "text": "Z", "font": "Liberation Serif", "fontSize": 27, "align": "left", "baseline": "alphabetic", "color": "#111"},
          "encoding": {"x": {"datum": -0.092, "type": "quantitative"}, "y": {"datum": 0.737, "type": "quantitative"}}
        },
        {
          "data": {"name": "one"},
          "mark": {"type": "text", "text": "A", "font": "Liberation Serif", "fontSize": 62, "align": "left", "baseline": "alphabetic", "color": "#111"},
          "encoding": {"x": {"datum": 0.097, "type": "quantitative"}, "y": {"datum": 0.106, "type": "quantitative"}}
        },
        {
          "data": {"name": "one"},
          "mark": {"type": "text", "text": "B", "font": "Liberation Serif", "fontSize": 56, "align": "left", "baseline": "alphabetic", "color": "#111"},
          "encoding": {"x": {"datum": -0.322, "type": "quantitative"}, "y": {"datum": -0.38, "type": "quantitative"}}
        },
        {
          "data": {"name": "one"},
          "mark": {"type": "text", "text": "(a)", "font": "Liberation Serif", "fontSize": 32, "fontStyle": "italic", "align": "left", "baseline": "alphabetic", "color": "#111"},
          "encoding": {"x": {"datum": -0.677, "type": "quantitative"}, "y": {"datum": 0.786, "type": "quantitative"}}
        },
        {
          "data": {"name": "one"},
          "mark": {"type": "text", "text": "(b)", "font": "Liberation Serif", "fontSize": 32, "fontStyle": "italic", "align": "left", "baseline": "alphabetic", "color": "#111"},
          "encoding": {"x": {"datum": -0.677, "type": "quantitative"}, "y": {"datum": -0.842, "type": "quantitative"}}
        },
        {
          "data": {"name": "one"},
          "mark": {"type": "text", "text": "<", "font": "Liberation Serif", "fontSize": 22, "align": "left", "baseline": "alphabetic", "color": "#111"},
          "encoding": {"x": {"datum": 0.612, "type": "quantitative"}, "y": {"datum": 0.455, "type": "quantitative"}}
        },
        {
          "data": {"name": "one"},
          "mark": {"type": "text", "text": "ĝ", "font": "Liberation Serif", "fontSize": 34, "align": "left", "baseline": "alphabetic", "color": "#111"},
          "encoding": {"x": {"datum": 0.672, "type": "quantitative"}, "y": {"datum": 0.455, "type": "quantitative"}}
        },
        {
          "data": {"name": "one"},
          "mark": {"type": "text", "text": "3> > 0", "font": "Liberation Serif", "fontSize": 22, "align": "left", "baseline": "alphabetic", "color": "#111"},
          "encoding": {"x": {"datum": 0.759, "type": "quantitative"}, "y": {"datum": 0.455, "type": "quantitative"}}
        },
        {
          "data": {"name": "one"},
          "mark": {"type": "text", "text": "<", "font": "Liberation Serif", "fontSize": 22, "align": "left", "baseline": "alphabetic", "color": "#111"},
          "encoding": {"x": {"datum": 0.587, "type": "quantitative"}, "y": {"datum": -0.54, "type": "quantitative"}}
        },
        {
          "data": {"name": "one"},
          "mark": {"type": "text", "text": "ĝ", "font": "Liberation Serif", "fontSize": 34, "align": "left", "baseline": "alphabetic", "color": "#111"},
          "encoding": {"x": {"datum": 0.647, "type": "quantitative"}, "y": {"datum": -0.54, "type": "quantitative"}}
        },
        {
          "data": {"name": "one"},
          "mark": {"type": "text", "text": "3> < 0", "font": "Liberation Serif", "fontSize": 22, "align": "left", "baseline": "alphabetic", "color": "#111"},
          "encoding": {"x": {"datum": 0.735, "type": "quantitative"}, "y": {"datum": -0.54, "type": "quantitative"}}
        }
      ]
    }
  ],
  "bounds": "flush",
  "center": true,
  "spacing": 51
}
